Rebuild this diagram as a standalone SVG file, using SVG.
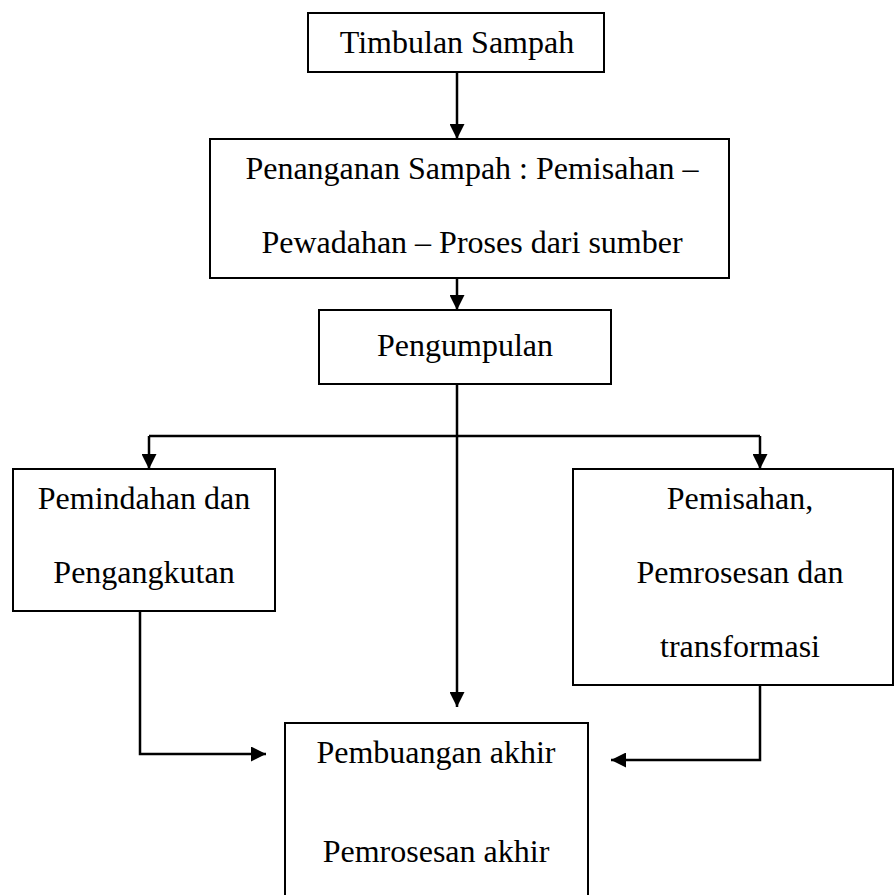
<svg xmlns="http://www.w3.org/2000/svg" width="894" height="895" viewBox="0 0 894 895">
<style>
.box{fill:#fff;stroke:#000;stroke-width:2}
.t{font-family:"Liberation Serif","Times New Roman",serif;font-size:32px;fill:#000;text-anchor:middle}
.c{fill:none;stroke:#000;stroke-width:2.5}
</style>
<defs>
<marker id="ah" markerUnits="userSpaceOnUse" markerWidth="15" markerHeight="15" refX="15" refY="7.5" orient="auto">
<path d="M0,0 L15,7.5 L0,15 z" fill="#000"/>
</marker>
</defs>
<rect width="894" height="895" fill="#fff"/>
<g id="connectors">
<path class="c" d="M457,72 V139" marker-end="url(#ah)"/>
<path class="c" d="M457,278 V310" marker-end="url(#ah)"/>
<path class="c" d="M457,384 V707" marker-end="url(#ah)"/>
<path class="c" d="M149,436 H760"/>
<path class="c" d="M149,436 V469" marker-end="url(#ah)"/>
<path class="c" d="M760,436 V469" marker-end="url(#ah)"/>
<path class="c" d="M140,611 V754 H266" marker-end="url(#ah)"/>
<path class="c" d="M760,685 V760 H611" marker-end="url(#ah)"/>
</g>
<g id="timbulan">
<rect class="box" x="308" y="13" width="296" height="59"/>
<text class="t" x="457" y="53">Timbulan Sampah</text>
</g>
<g id="penanganan">
<rect class="box" x="210" y="139" width="519" height="139"/>
<text class="t" x="472" y="179">Penanganan Sampah : Pemisahan –</text>
<text class="t" x="472" y="253">Pewadahan – Proses dari sumber</text>
</g>
<g id="pengumpulan">
<rect class="box" x="319" y="310" width="292" height="74"/>
<text class="t" x="465" y="356">Pengumpulan</text>
</g>
<g id="pemindahan">
<rect class="box" x="13" y="469" width="262" height="142"/>
<text class="t" x="144" y="509">Pemindahan dan</text>
<text class="t" x="144" y="583">Pengangkutan</text>
</g>
<g id="pemisahan">
<rect class="box" x="573" y="469" width="320" height="216"/>
<text class="t" x="740" y="509">Pemisahan,</text>
<text class="t" x="740" y="583">Pemrosesan dan</text>
<text class="t" x="740" y="657">transformasi</text>
</g>
<g id="pembuangan">
<rect class="box" x="285" y="723" width="303" height="190"/>
<text class="t" x="436" y="763">Pembuangan akhir</text>
<text class="t" x="436" y="862">Pemrosesan akhir</text>
</g>
</svg>
